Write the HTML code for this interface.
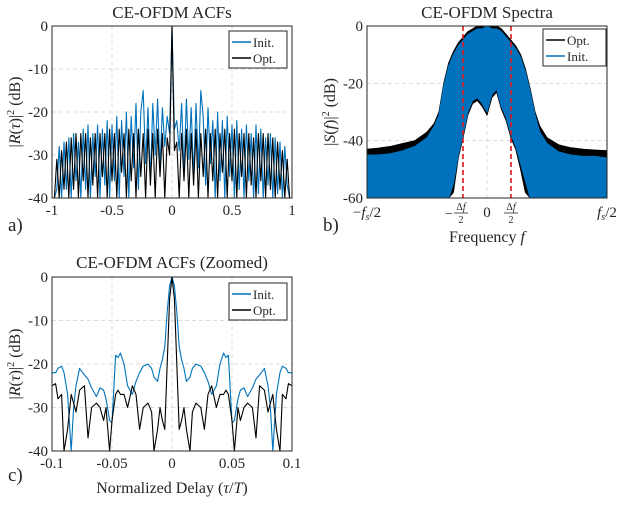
<!DOCTYPE html>
<html><head><meta charset="utf-8"><style>
body{margin:0;background:#fff;}
svg text{font-family:"Liberation Serif",serif;fill:#262626;}
</style></head><body>
<svg id="fig" width="622" height="500" viewBox="0 0 622 500" xmlns="http://www.w3.org/2000/svg"></svg>
<script>
// ---- Panel a data ----
const acfDelay = [-1,-0.98,-0.96,-0.94,-0.92,-0.9,-0.88,-0.86,-0.84,-0.82,-0.8,-0.78,-0.76,-0.74,-0.72,-0.7,-0.68,-0.66,-0.64,-0.62,-0.6,-0.58,-0.56,-0.54,-0.52,-0.5,-0.48,-0.46,-0.44,-0.42,-0.4,-0.38,-0.36,-0.34,-0.32,-0.3,-0.28,-0.26,-0.24,-0.22,-0.2,-0.18,-0.16,-0.14,-0.12,-0.1,-0.08,-0.06,-0.04,-0.02,0,0.02,0.04,0.06,0.08,0.1,0.12,0.14,0.16,0.18,0.2,0.22,0.24,0.26,0.28,0.3,0.32,0.34,0.36,0.38,0.4,0.42,0.44,0.46,0.48,0.5,0.52,0.54,0.56,0.58,0.6,0.62,0.64,0.66,0.68,0.7,0.72,0.74,0.76,0.78,0.8,0.82,0.84,0.86,0.88,0.9,0.92,0.94,0.96,0.98,1];
const acfInit = [-40,-40,-38,-28,-40,-27,-38,-26,-40,-25,-36,-27,-40,-24,-38,-23,-40,-25,-35,-23,-40,-24,-37,-22,-40,-23,-36,-21,-40,-22,-35,-20,-40,-21,-33,-18,-38,-20,-15,-32,-19,-36,-18,-30,-17,-33,-19,-28,-21,-25,0,-24,-22,-29,-18,-34,-17,-31,-19,-35,-18,-33,-15,-21,-37,-19,-32,-22,-40,-20,-36,-22,-40,-21,-35,-23,-40,-22,-38,-24,-40,-23,-36,-25,-40,-23,-39,-24,-40,-26,-37,-25,-40,-26,-39,-27,-40,-28,-37,-40,-40];
const acfOpt = [-40,-40,-31,-40,-29,-38,-27,-40,-26,-38,-25,-40,-25,-36,-25,-40,-26,-37,-25,-40,-25,-35,-25,-40,-24,-36,-25,-40,-24,-34,-25,-40,-24,-36,-25,-40,-24,-35,-25,-40,-24,-37,-25,-40,-24,-35,-25,-40,-26,-30,0,-29,-27,-40,-25,-36,-24,-40,-25,-37,-24,-40,-25,-35,-24,-40,-25,-36,-24,-40,-25,-34,-24,-40,-25,-36,-24,-40,-25,-35,-25,-40,-25,-37,-26,-40,-25,-36,-25,-40,-25,-38,-26,-40,-27,-38,-29,-40,-31,-40,-40];
const acfXTicks = [-1,-0.5,0,0.5,1];
const acfXTickLabels = ['-1','-0.5','0','0.5','1'];
const acfYTicks = [0,-10,-20,-30,-40];
const acfYTickLabels = ['0','-10','-20','-30','-40'];
// ---- Panel b data ----
const specFreq = [-0.5,-0.45,-0.4,-0.35,-0.3,-0.25,-0.22,-0.2,-0.18,-0.16,-0.14,-0.12,-0.1,-0.08,-0.06,-0.04,-0.02,0,0.02,0.04,0.06,0.08,0.1,0.12,0.14,0.16,0.18,0.2,0.22,0.25,0.3,0.35,0.4,0.45,0.5];
const specOptUpper = [-43,-42.6,-42,-41,-40,-37,-34,-30,-20,-13,-9,-6,-4,-2,-1,0,0,0,0,0,-1,-3,-5,-7,-10,-15,-22,-30,-35,-39,-41.5,-42.5,-43,-43.3,-43.5];
const specOptLower = [-60,-60,-60,-60,-60,-60,-60,-60,-60,-60,-58,-46,-39,-31,-27,-26,-28,-31,-25,-23,-29,-33,-39,-43,-50,-58,-60,-60,-60,-60,-60,-60,-60,-60,-60];
const specInitUpper = [-45,-45,-44.5,-43.5,-42,-39,-35,-31,-21,-14,-10,-7,-5,-3,-2,-1,-1,0,-1,-1,-2,-4,-6,-8,-11,-16,-23,-31,-37,-41,-44,-45,-45.5,-45.5,-46];
const specInitLower = [-60,-60,-60,-60,-60,-60,-60,-60,-60,-60,-55,-45,-38,-30,-26,-25,-27,-30,-24,-22,-28,-32,-38,-42,-48,-54,-60,-60,-60,-60,-60,-60,-60,-60,-60];
const specYTicks = [0,-20,-40,-60];
const specYTickLabels = ['0','-20','-40','-60'];
const bandEdges = [-0.1,0.1];
// ---- Panel c data ----
const zoomDelay = [-0.1,-0.097,-0.095,-0.092,-0.09,-0.087,-0.084,-0.082,-0.08,-0.077,-0.073,-0.07,-0.067,-0.063,-0.06,-0.057,-0.055,-0.052,-0.05,-0.047,-0.045,-0.043,-0.04,-0.037,-0.033,-0.03,-0.027,-0.024,-0.02,-0.017,-0.015,-0.012,-0.01,-0.008,-0.006,-0.004,-0.002,0,0.002,0.004,0.006,0.008,0.01,0.012,0.015,0.017,0.02,0.024,0.027,0.03,0.033,0.037,0.04,0.043,0.045,0.047,0.05,0.052,0.055,0.057,0.06,0.063,0.067,0.07,0.073,0.077,0.08,0.082,0.084,0.087,0.09,0.092,0.095,0.097,0.1];
const zoomInit = [-22,-22,-21,-20.5,-22,-27,-40,-30,-25,-21,-22.5,-23.5,-25.5,-27.5,-25.5,-26,-28,-33,-33.5,-18,-18.5,-17.5,-20,-25,-27,-24,-22,-20.5,-20,-21,-23,-24,-21,-19,-16,-8,-2,0,-2,-8,-16,-19,-21,-24,-23,-21,-20,-20.5,-22,-24,-27,-25,-20,-17.5,-18.5,-18,-33.5,-33,-28,-26,-25.5,-27.5,-25.5,-23.5,-22.5,-21,-25,-30,-40,-27,-22,-20.5,-21,-22,-22];
const zoomOpt = [-25,-24.5,-28,-27,-40,-35,-27,-29,-31,-26,-25,-37,-30,-29,-30,-33,-30,-40,-33,-27,-26,-27,-27,-30,-25,-27,-35,-30,-29,-31,-40,-35,-30,-33,-35,-20,-5,0,-5,-20,-35,-33,-30,-35,-40,-31,-29,-30,-35,-27,-25,-30,-27,-27,-26,-27,-33,-40,-30,-33,-30,-29,-30,-37,-25,-26,-31,-29,-27,-35,-40,-27,-28,-24.5,-25];
const zoomXTicks = [-0.1,-0.05,0,0.05,0.1];
const zoomXTickLabels = ['-0.1','-0.05','0','0.05','0.1'];

const NS='http://www.w3.org/2000/svg';
const svg=document.getElementById('fig');
function mk(tag,attrs,parent,text){const e=document.createElementNS(NS,tag);for(const k in attrs)e.setAttribute(k,attrs[k]);if(text!==undefined)e.textContent=text;(parent||svg).appendChild(e);return e;}
function lin(d0,d1,r0,r1){return v=>r0+(v-d0)/(d1-d0)*(r1-r0);}

function axesFrame(g,L,T,R,B,xs,ys,xt,yt,xl,yl,name){
  const grid=mk('g',{},g);
  
  
  xt.forEach(v=>{mk('line',{x1:xs(v),x2:xs(v),y1:T,y2:B,stroke:'#dcdcdc','stroke-dasharray':'4,3','stroke-width':1},grid);});
  yt.forEach(v=>{mk('line',{x1:L,x2:R,y1:ys(v),y2:ys(v),stroke:'#dcdcdc','stroke-dasharray':'4,3','stroke-width':1},grid);});
  xt.forEach((v,i)=>{if(xl){const t=mk('text',{x:xs(v),y:B+17,'text-anchor':'middle','font-size':15},g,xl[i]);
    
    }});
  yt.forEach((v,i)=>{const t=mk('text',{x:L-4,y:ys(v)+5,'text-anchor':'end','font-size':15},g,yl[i]);
    
    });
}
function box(g,L,T,R,B){mk('rect',{x:L,y:T,width:R-L,height:B-T,fill:'none',stroke:'#262626','stroke-width':1},g);}
function poly(g,xs,ys,X,Y,color,name){
  const p=mk('polyline',{points:X.map((x,i)=>xs(x).toFixed(1)+','+ys(Y[i]).toFixed(1)).join(' '),fill:'none',stroke:color,'stroke-width':1.1,'stroke-linejoin':'round'},g);
  
  
}
function legend(g,x,y,w,items,name){
  const lg=mk('g',{},g);
  
  
  mk('rect',{x:x,y:y,width:w,height:37,fill:'#fff',stroke:'#262626','stroke-width':1},lg);
  items.forEach((it,i)=>{const yy=y+11+i*16;
    mk('line',{x1:x+3,x2:x+22,y1:yy,y2:yy,stroke:it[1],'stroke-width':1.5},lg);
    const t=mk('text',{x:x+24,y:yy+5,'font-size':13},lg,it[0]);
    
    });
}
function ylabel(g,x,y,txt,name){const t=mk('text',{x:x,y:y,'text-anchor':'middle','font-size':16,transform:'rotate(-90 '+x+' '+y+')'},g);
  t.innerHTML=txt;
  
  }
function title(g,x,y,txt,name){const t=mk('text',{x:x,y:y,'text-anchor':'middle','font-size':17},g,txt);
  
  }
function panelLabel(x,y,txt,name){const t=mk('text',{x:x,y:y,'font-size':19},svg,txt);
  
  }

// Panel a
(function(){
  const g=mk('g',{});
  
  
  const L=52,R=292,T=26,B=198;
  const xs=lin(-1,1,L,R), ys=lin(0,-40,T,B);
  axesFrame(g,L,T,R,B,xs,ys,acfXTicks,acfYTicks,acfXTickLabels,acfYTickLabels,'panel-a');
  poly(g,xs,ys,acfDelay,acfInit,'#0072BD','init-acf-line');
  poly(g,xs,ys,acfDelay,acfOpt,'#000','opt-acf-line');
  box(g,L,T,R,B);
  legend(g,229,31,58,[['Init.','#0072BD'],['Opt.','#000']],'legend-a');
  title(g,172,18,'CE-OFDM ACFs','title-a');
  ylabel(g,20,112,'|<tspan font-style="italic">R</tspan>(<tspan font-style="italic">τ</tspan>)|<tspan dy="-6" font-size="10">2</tspan><tspan dy="6"> (dB)</tspan>','y-axis-title-a');
})();
panelLabel(8,231,'a)','panel-label-a');

// Panel b
(function(){
  const g=mk('g',{});
  
  
  const L=367,R=607,T=26,B=198;
  const xs=lin(-0.5,0.5,L,R), ys=lin(0,-60,T,B);
  axesFrame(g,L,T,R,B,xs,ys,[0],specYTicks,null,specYTickLabels,'panel-b');
  function band(up,lo,color,name){
    const pts=specFreq.map((f,i)=>xs(f).toFixed(1)+','+ys(up[i]).toFixed(1)).concat(specFreq.map((f,i)=>xs(f).toFixed(1)+','+ys(lo[i]).toFixed(1)).reverse());
    const p=mk('polygon',{points:pts.join(' '),fill:color,stroke:color,'stroke-width':1},g);
    
    
  }
  band(specOptUpper,specOptLower,'#000','opt-spectrum');
  band(specInitUpper,specInitLower,'#0072BD','init-spectrum');
  bandEdges.forEach(f=>{const l=mk('line',{x1:xs(f),x2:xs(f),y1:T,y2:B,stroke:'#e8141a','stroke-width':1.6,'stroke-dasharray':'5,3'},g);
    
    });
  box(g,L,T,R,B);
  legend(g,543,29,63,[['Opt.','#000'],['Init.','#0072BD']],'legend-b');
  title(g,487,18,'CE-OFDM Spectra','title-b');
  ylabel(g,335,112,'|<tspan font-style="italic">S</tspan>(<tspan font-style="italic">f</tspan>)|<tspan dy="-6" font-size="10">2</tspan><tspan dy="6"> (dB)</tspan>','y-axis-title-b');
  const tl=[[L,'−<tspan font-style="italic">f</tspan><tspan font-size="10" dy="3" font-style="italic">s</tspan><tspan dy="-3">/2</tspan>'],[xs(0),'0'],[R,'<tspan font-style="italic">f</tspan><tspan font-size="10" dy="3" font-style="italic">s</tspan><tspan dy="-3">/2</tspan>']];
  tl.forEach(a=>{const t=mk('text',{x:a[0],y:B+19,'text-anchor':'middle','font-size':15},g);t.innerHTML=a[1];
    
    });
  [0,1].forEach(i=>{
    const cx=xs(bandEdges[i])+(i?0:-2);
    const t=mk('text',{x:cx,y:B+12,'text-anchor':'middle','font-size':10},g);
    t.innerHTML='Δ<tspan font-style="italic">f</tspan>';
    
    
    mk('line',{x1:cx-7,x2:cx+7,y1:B+15,y2:B+15,stroke:'#262626','stroke-width':0.8},g);
    mk('text',{x:cx,y:B+25,'text-anchor':'middle','font-size':10},g,'2');
    if(!i) mk('text',{x:cx-12,y:B+20,'text-anchor':'middle','font-size':14},g,'−');
  });
  const xl=mk('text',{x:487,y:242,'text-anchor':'middle','font-size':16},g);
  xl.innerHTML='Frequency <tspan font-style="italic">f</tspan>';
  
  
})();
panelLabel(323,231,'b)','panel-label-b');

// Panel c
(function(){
  const g=mk('g',{});
  
  
  const L=52,R=292,T=277,B=451;
  const xs=lin(-0.1,0.1,L,R), ys=lin(0,-40,T,B);
  axesFrame(g,L,T,R,B,xs,ys,zoomXTicks,acfYTicks,zoomXTickLabels,acfYTickLabels,'panel-c');
  poly(g,xs,ys,zoomDelay,zoomInit,'#0072BD','init-zoom-line');
  poly(g,xs,ys,zoomDelay,zoomOpt,'#000','opt-zoom-line');
  box(g,L,T,R,B);
  legend(g,229,283,58,[['Init.','#0072BD'],['Opt.','#000']],'legend-c');
  title(g,172,268,'CE-OFDM ACFs (Zoomed)','title-c');
  ylabel(g,20,364,'|<tspan font-style="italic">R</tspan>(<tspan font-style="italic">τ</tspan>)|<tspan dy="-6" font-size="10">2</tspan><tspan dy="6"> (dB)</tspan>','y-axis-title-c');
  const xl=mk('text',{x:172,y:493,'text-anchor':'middle','font-size':16},g);
  xl.innerHTML='Normalized Delay (<tspan font-style="italic">τ</tspan>/<tspan font-style="italic">T</tspan>)';
  
  
})();
panelLabel(8,481,'c)','panel-label-c');
</script>
</body></html>
